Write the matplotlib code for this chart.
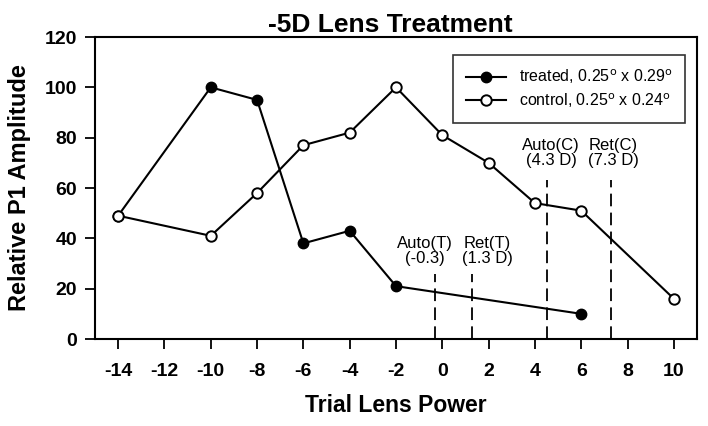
import matplotlib
matplotlib.use("Agg")
import matplotlib.pyplot as plt

plt.rcParams['font.family'] = ['Liberation Sans', 'DejaVu Sans']

treated_x = [-14, -10, -8, -6, -4, -2, 6]
treated_y = [49, 100, 95, 38, 43, 21, 10]
control_x = [-14, -10, -8, -6, -4, -2, 0, 2, 4, 6, 10]
control_y = [49, 41, 58, 77, 82, 100, 81, 70, 54, 51, 16]

ref_labels = ["Auto(T)\n(-0.3)", "Ret(T)\n(1.3 D)", "Auto(C)\n(4.3 D)", "Ret(C)\n(7.3 D)"]
ref_x = [-0.3, 1.3, 4.5, 7.3]
ref_top = [26, 26, 63, 63]
ref_text_x = [-0.75, 1.95, 4.7, 7.4]
ref_text_y = [29, 29, 68, 68]

xticks = list(range(-14, 11, 2))
yticks = list(range(0, 121, 20))

fig = plt.figure(figsize=(7.08, 4.26), dpi=100)
ax = fig.add_axes([95/708, 1-339/426, (697-95)/708, (339-37)/426])

ax.plot(treated_x, treated_y, color='black', lw=1.5, marker='o', ms=7.5,
        mfc='black', mec='black', label='treated, 0.25$^{\\rm o}$ x 0.29$^{\\rm o}$', zorder=3)
ax.plot(control_x, control_y, color='black', lw=1.5, marker='o', ms=7.5,
        mfc='white', mec='black', mew=1.4, label='control, 0.25$^{\\rm o}$ x 0.24$^{\\rm o}$', zorder=4)

for x, top in zip(ref_x, ref_top):
    ax.plot([x, x], [0, top], color='black', lw=1.3, ls=(0, (7, 3.5)), zorder=2)
for tx, ty, lab in zip(ref_text_x, ref_text_y, ref_labels):
    ax.text(tx, ty, lab, ha='center', va='bottom', fontsize=12, linespacing=1.0)

ax.set_xlim(-15, 11)
ax.set_ylim(0, 120)
ax.set_xticks(xticks)
ax.set_yticks(yticks)
ax.set_xticklabels([str(t) for t in xticks], fontsize=14, fontweight='bold')
ax.set_yticklabels([str(t) for t in yticks], fontsize=14, fontweight='bold')
ax.tick_params(axis='x', direction='out', length=7, width=1.3, pad=10)
ax.tick_params(axis='y', direction='out', length=7, width=1.3, pad=6)
for s in ax.spines.values():
    s.set_linewidth(1.5)

ax.set_xlabel('Trial Lens Power', fontsize=16.5, fontweight='bold', labelpad=10)
ax.set_ylabel('Relative P1 Amplitude', fontsize=17, fontweight='bold', labelpad=10)
ax.set_title('-5D Lens Treatment', fontsize=19, fontweight='bold', pad=3, x=0.49)

leg = ax.legend(loc='upper right', bbox_to_anchor=(0.98, 0.94), fontsize=11.5,
                frameon=True, fancybox=False, edgecolor='black', handlelength=2.5,
                borderpad=0.8, labelspacing=0.3, borderaxespad=0)
leg.get_frame().set_linewidth(1.2)

fig.savefig('out.png', dpi=100)
